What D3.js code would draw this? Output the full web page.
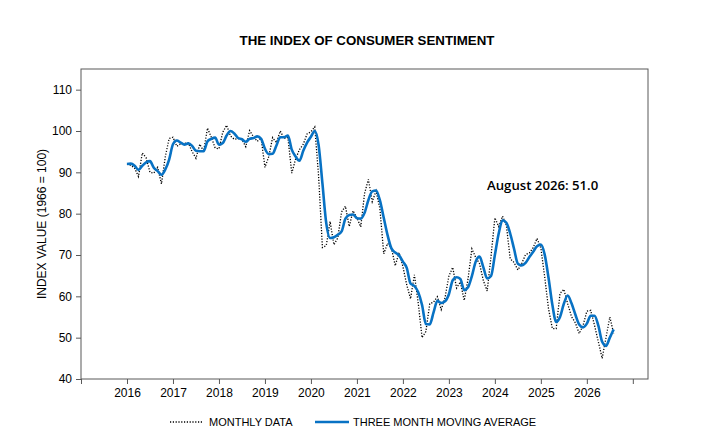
<!DOCTYPE html>
<html>
<head>
<meta charset="utf-8">
<script src="https://cdn.jsdelivr.net/npm/d3@7"></script>
<style>
  html, body { margin: 0; padding: 0; background: #fff; }
  svg text { font-family: "Liberation Sans", Arial, sans-serif; fill: #000; }
</style>
</head>
<body>
<div id="chart"></div>
<script>
// monthly index values, Jan 2016 .. Aug 2026
const monthly2016 = [92.0, 91.7, 91.0, 89.0, 94.7, 93.5, 90.0, 89.8, 91.2, 87.2, 93.8, 98.2];
const monthly2017 = [98.5, 96.3, 96.9, 97.0, 97.1, 95.0, 93.4, 96.8, 95.1, 100.7, 98.5, 95.9];
const monthly2018 = [95.7, 99.7, 101.4, 98.8, 98.0, 98.2, 97.9, 96.2, 100.1, 98.6, 97.5, 98.3];
const monthly2019 = [91.2, 93.8, 98.4, 97.2, 100.0, 98.2, 98.4, 89.8, 93.2, 95.5, 96.8, 99.3];
const monthly2020 = [99.8, 101.0, 89.1, 71.8, 72.3, 78.1, 72.5, 74.1, 80.4, 81.8, 76.9, 80.7];
const monthly2021 = [79.0, 76.8, 84.9, 88.3, 82.9, 85.5, 81.2, 70.3, 72.8, 71.7, 67.4, 70.6];
const monthly2022 = [67.2, 62.8, 59.4, 65.2, 58.4, 50.0, 51.5, 58.2, 58.6, 59.9, 56.8, 59.7];
const monthly2023 = [64.9, 67.0, 62.0, 63.5, 59.0, 64.2, 71.5, 69.4, 67.9, 63.8, 61.3, 69.7];
const monthly2024 = [79.0, 76.9, 79.4, 77.2, 69.1, 68.2, 66.4, 67.9, 70.1, 70.5, 71.8, 74.0];
const monthly2025 = [71.7, 64.7, 57.0, 52.2, 52.2, 60.7, 61.7, 58.2, 55.1, 53.6, 51.0, 52.9];
const monthly2026 = [56.4, 56.6, 53.0, 49.0, 45.0, 50.0, 55.0, 51.0];

// three month moving average
const avg2016 = [92.0, 92.1, 91.6, 90.6, 91.6, 92.4, 92.7, 91.1, 90.3, 89.4, 90.7, 93.1];
const avg2017 = [96.8, 97.7, 97.2, 96.7, 97.0, 96.4, 95.2, 95.1, 95.1, 97.5, 98.1, 98.4];
const avg2018 = [96.7, 97.1, 98.9, 100.0, 99.4, 98.3, 98.0, 97.4, 98.1, 98.3, 98.7, 98.1];
const avg2019 = [95.7, 94.4, 94.5, 96.5, 98.5, 98.5, 98.9, 95.5, 93.8, 92.8, 95.2, 97.2];
const avg2020 = [98.6, 100.0, 96.6, 87.3, 77.7, 74.1, 74.3, 74.9, 75.7, 78.8, 79.7, 79.8];
const avg2021 = [78.9, 78.8, 80.2, 83.3, 85.4, 85.6, 83.2, 79.0, 74.8, 71.6, 70.6, 69.9];
const avg2022 = [68.4, 66.9, 63.1, 62.5, 61.0, 57.9, 53.3, 53.2, 56.1, 58.9, 58.4, 58.8];
const avg2023 = [60.5, 63.9, 64.6, 64.2, 61.5, 62.2, 64.9, 68.4, 69.6, 67.0, 64.3, 64.9];
const avg2024 = [70.0, 75.2, 78.4, 77.8, 75.2, 71.5, 67.9, 67.5, 68.1, 69.5, 70.8, 72.1];
const avg2025 = [72.5, 70.1, 64.5, 58.0, 53.8, 55.0, 58.2, 60.2, 58.3, 55.6, 53.2, 52.5];
const avg2026 = [53.4, 55.3, 55.3, 52.9, 49.0, 48.0, 50.0, 52.0];

const firstYear = 2016;
const xTicks = d3.range(2015, 2028);          // tick marks 2015 .. 2027
const xLabels = d3.range(2016, 2027);         // labelled 2016 .. 2026
const yTicks = [40, 50, 60, 70, 80, 90, 100, 110];
const note = "August 2026: 51.0";

const width = 719, height = 441;
const margin = { top: 69, right: 71, bottom: 62, left: 81 };

const monthly = [].concat(monthly2016, monthly2017, monthly2018, monthly2019, monthly2020,
  monthly2021, monthly2022, monthly2023, monthly2024, monthly2025, monthly2026);
const movingAvg = [].concat(avg2016, avg2017, avg2018, avg2019, avg2020,
  avg2021, avg2022, avg2023, avg2024, avg2025, avg2026);

// month i sits at year + i/12
const toPoints = arr => arr.map((v, i) => ({ t: firstYear + i / 12, v: v }));

const svg = d3.select("#chart").append("svg")
  .attr("width", width)
  .attr("height", height);

const x = d3.scaleLinear()
  .domain([2015, 2027.33])
  .range([margin.left, width - margin.right]);

const y = d3.scaleLinear()
  .domain([40, 115])
  .range([height - margin.bottom, margin.top]);

// title
svg.append("text")
  .attr("x", 367)
  .attr("y", 45)
  .attr("text-anchor", "middle")
  .style("font-size", "13.3px")
  .style("font-weight", "bold")
  .text("THE INDEX OF CONSUMER SENTIMENT");

// axes
const xAxis = svg.append("g")
  .attr("transform", `translate(0,${height - margin.bottom})`)
  .call(d3.axisBottom(x).tickValues(xTicks).tickSize(5).tickPadding(4)
    .tickFormat(d => xLabels.includes(d) ? String(d) : ""));

const yAxis = svg.append("g")
  .attr("transform", `translate(${margin.left},0)`)
  .call(d3.axisLeft(y).tickValues(yTicks).tickSize(5).tickPadding(4));

[xAxis, yAxis].forEach(g => {
  g.select(".domain").remove();
  g.selectAll(".tick line").attr("stroke", "#595959");
  g.selectAll(".tick text")
    .style("font-family", "'Liberation Sans', Arial, sans-serif")
    .style("font-size", "12px")
    .attr("fill", "#000");
});

// plot frame
svg.append("rect")
  .attr("x", margin.left)
  .attr("y", margin.top)
  .attr("width", width - margin.left - margin.right)
  .attr("height", height - margin.top - margin.bottom)
  .attr("fill", "none")
  .attr("stroke", "#595959")
  .attr("stroke-width", 1);

// y axis title
svg.append("text")
  .attr("transform", `translate(46,${(margin.top + height - margin.bottom) / 2}) rotate(-90)`)
  .attr("text-anchor", "middle")
  .style("font-size", "12px")
  .text("INDEX VALUE (1966 = 100)");

// lines
const lineMonthly = d3.line()
  .x(d => x(d.t))
  .y(d => y(d.v));

const lineAvg = d3.line()
  .x(d => x(d.t))
  .y(d => y(d.v))
  .curve(d3.curveMonotoneX);

svg.append("path")
  .datum(toPoints(monthly))
  .attr("fill", "none")
  .attr("stroke", "#000")
  .attr("stroke-width", 1.3)
  .attr("stroke-dasharray", "1.2,1.6")
  .attr("d", lineMonthly);

svg.append("path")
  .datum(toPoints(movingAvg))
  .attr("fill", "none")
  .attr("stroke", "#0872c4")
  .attr("stroke-width", 2.6)
  .attr("stroke-linejoin", "round")
  .attr("d", lineAvg);

// annotation
svg.append("text")
  .attr("x", 487)
  .attr("y", 190)
  .style("font-family", "'Open Sans', 'Noto Sans', sans-serif")
  .style("font-size", "13.2px")
  .style("font-weight", "600")
  .text(note);

// legend
const legend = svg.append("g").attr("transform", "translate(0,422)");

legend.append("line")
  .attr("x1", 170).attr("x2", 203)
  .attr("stroke", "#000")
  .attr("stroke-width", 1.3)
  .attr("stroke-dasharray", "1.2,1.6");

legend.append("text")
  .attr("x", 209)
  .attr("y", 4)
  .style("font-size", "11px")
  .text("MONTHLY DATA");

legend.append("line")
  .attr("x1", 315).attr("x2", 349)
  .attr("stroke", "#0872c4")
  .attr("stroke-width", 2.6);

legend.append("text")
  .attr("x", 353)
  .attr("y", 4)
  .style("font-size", "11px")
  .text("THREE MONTH MOVING AVERAGE");
</script>
</body>
</html>
